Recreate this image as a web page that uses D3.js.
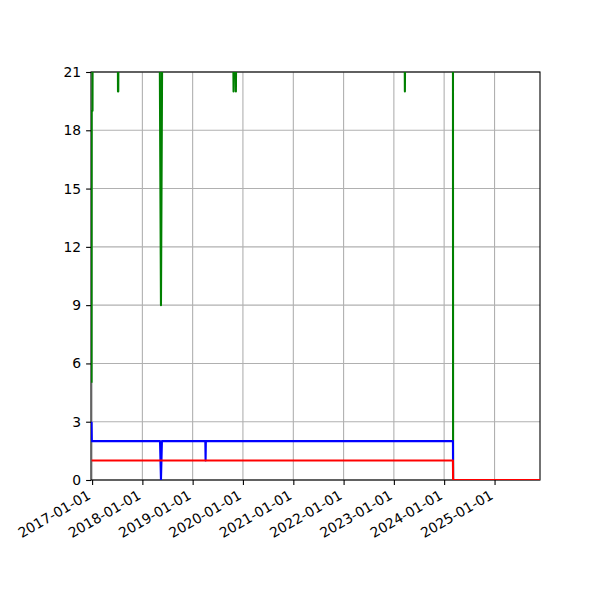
<!DOCTYPE html>
<meta charset="utf-8">
<style>
  body { margin: 0; background: #fff; }
  text { font-family: "DejaVu Sans", sans-serif; font-size: 13.9px; fill: #000; }
  .grid line { stroke: #b0b0b0; stroke-width: 1.1px; }
  .series { fill: none; stroke-width: 2.1px; stroke-linejoin: round; }
</style>
<body>
<script src="https://d3js.org/d3.v7.min.js"></script>
<script>

  // series data (above 21 is clipped in the original)
  var greenDates = ["2016-12-28", "2016-12-29", "2017-01-04", "2017-01-05",
    "2017-07-06", "2017-07-08", "2017-07-10", "2017-07-12",
    "2018-05-06", "2018-05-16", "2018-05-26",
    "2019-10-21", "2019-10-25", "2019-11-01", "2019-11-08", "2019-11-11", "2019-11-15",
    "2023-03-19", "2023-03-22", "2023-03-25",
    "2024-03-05", "2024-03-06", "2025-11-27"];
  var greenValues = [5, 19, 19, 24,
    24, 20, 20, 24,
    24, 9, 24,
    24, 20, 24, 24, 20, 24,
    24, 20, 24,
    24, 0, 0];

  var blueDates = ["2016-12-28", "2016-12-30", "2018-05-09", "2018-05-16", "2018-05-23",
    "2019-04-03", "2019-04-05", "2019-04-07", "2024-03-05", "2024-03-06", "2025-11-27"];
  var blueValues = [3, 2, 2, 0, 2, 2, 1, 2, 2, 0, 0];

  var redDates = ["2016-12-28", "2024-03-05", "2024-03-06", "2025-11-27"];
  var redValues = [1, 1, 0, 0];

  var xTickDates = ["2017-01-01", "2018-01-01", "2019-01-01", "2020-01-01", "2021-01-01",
    "2022-01-01", "2023-01-01", "2024-01-01", "2025-01-01"];
  var yTicks = [0, 3, 6, 9, 12, 15, 18, 21];

  var parse = d3.timeParse("%Y-%m-%d");

  // set the dimensions and margins of the graph
  var margin = { top: 72, right: 60, bottom: 120, left: 91 },
    width = 600 - margin.left - margin.right,
    height = 600 - margin.top - margin.bottom;

  var x = d3.scaleTime()
    .domain([parse("2016-12-24"), parse("2025-11-27")])
    .range([0, width]);
  var y = d3.scaleLinear()
    .domain([0, 21])
    .range([height, 0]);

  var svg = d3.select("body").append("svg")
    .attr("width", 600)
    .attr("height", 600)
    .append("g")
    .attr("transform", "translate(" + margin.left + "," + margin.top + ")");

  svg.append("defs").append("clipPath")
    .attr("id", "clip")
    .append("rect")
    .attr("width", width)
    .attr("height", height);

  // grid lines
  var grid = svg.append("g").attr("class", "grid");
  grid.selectAll(".vx")
    .data(xTickDates)
    .enter().append("line")
    .attr("x1", function (d) { return x(parse(d)); })
    .attr("x2", function (d) { return x(parse(d)); })
    .attr("y1", 0)
    .attr("y2", height);
  grid.selectAll(".hy")
    .data(yTicks)
    .enter().append("line")
    .attr("x1", 0)
    .attr("x2", width)
    .attr("y1", function (d) { return y(d); })
    .attr("y2", function (d) { return y(d); });

  // frame (drawn under the lines so the red line along 0 stays visible)
  svg.append("rect")
    .attr("width", width)
    .attr("height", height)
    .attr("fill", "none")
    .attr("stroke", "#000")
    .attr("stroke-width", 1.1);

  // lines
  var line = d3.line()
    .x(function (d) { return x(d[0]); })
    .y(function (d) { return y(d[1]); });

  var series = [
    { color: "#008000", dates: greenDates, values: greenValues },
    { color: "#0000ff", dates: blueDates, values: blueValues },
    { color: "#ff0000", dates: redDates, values: redValues }
  ];

  var plot = svg.append("g").attr("clip-path", "url(#clip)");
  series.forEach(function (s) {
    var pts = s.dates.map(function (d, i) { return [parse(d), s.values[i]]; });
    plot.append("path")
      .attr("class", "series")
      .attr("stroke", s.color)
      .attr("d", line(pts));
  });

  // x axis
  var xAxis = svg.append("g")
    .attr("transform", "translate(0," + height + ")")
    .call(d3.axisBottom(x)
      .tickValues(xTickDates.map(parse))
      .tickFormat(d3.timeFormat("%Y-%m-%d"))
      .tickSize(4.9)
      .tickPadding(4.9));
  xAxis.select(".domain").remove();
  xAxis.selectAll(".tick line").attr("stroke-width", 1.1);
  xAxis.selectAll(".tick text")
    .attr("font-size", null)
    .attr("font-family", null)
    .attr("y", 0)
    .attr("dy", null)
    .attr("text-anchor", "end")
    .attr("transform", "translate(-1,18) rotate(-30)");

  // y axis
  var yAxis = svg.append("g")
    .call(d3.axisLeft(y)
      .tickValues(yTicks)
      .tickSize(4.9)
      .tickPadding(4.9));
  yAxis.select(".domain").remove();
  yAxis.selectAll(".tick line").attr("stroke-width", 1.1);
  yAxis.selectAll(".tick text")
    .attr("font-size", null)
    .attr("font-family", null);

</script>
</body>
